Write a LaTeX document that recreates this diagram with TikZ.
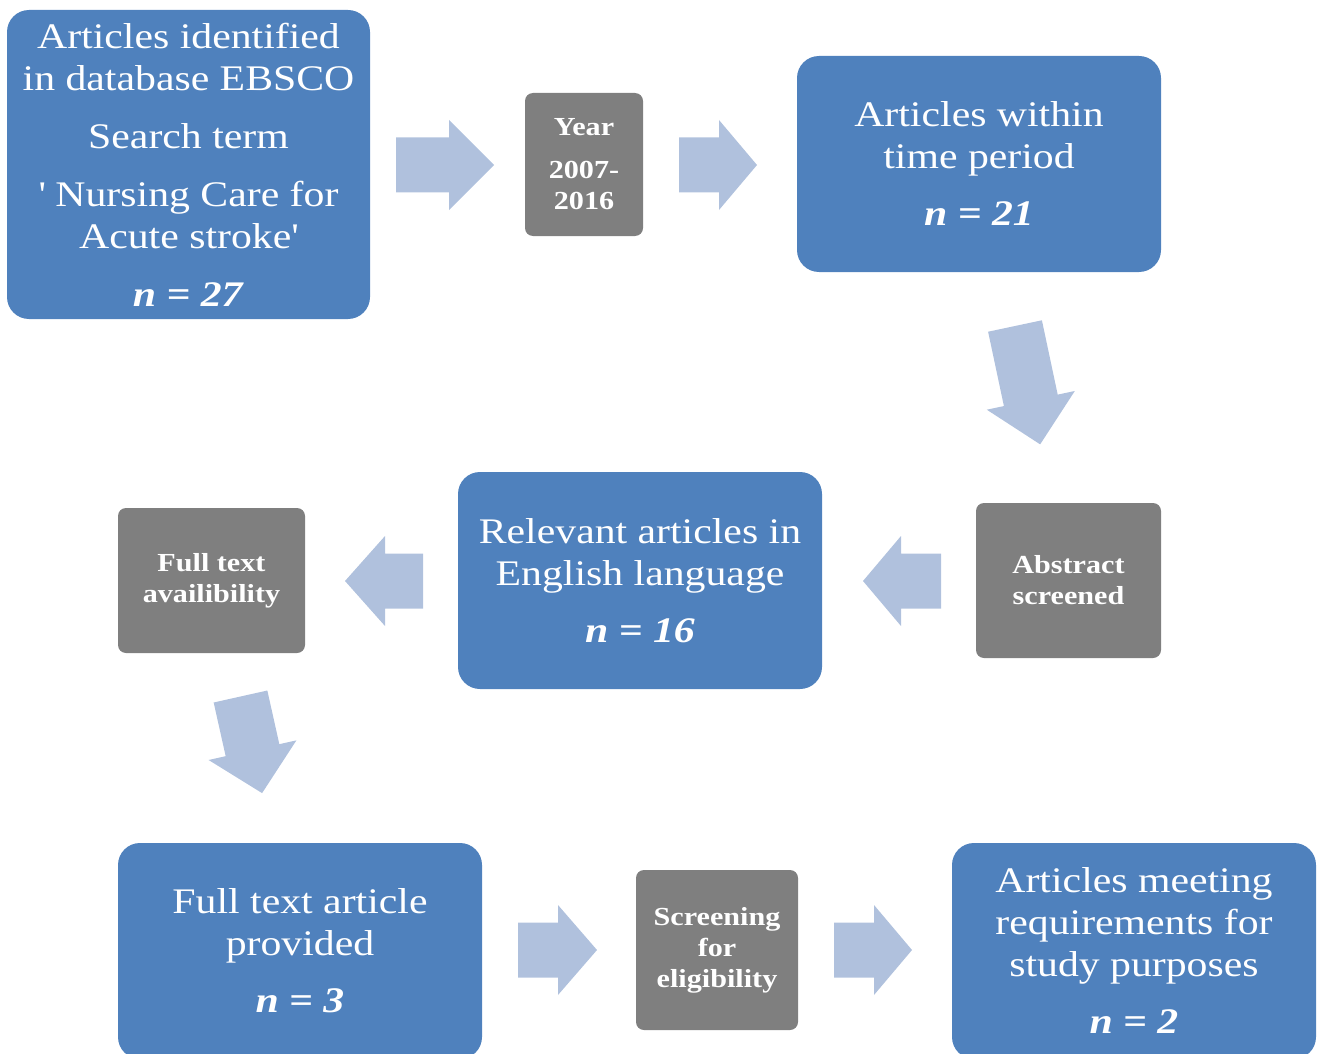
\documentclass[tikz,border=0pt]{standalone}
\usepackage{fontspec}
\setmainfont{Liberation Serif}[FakeStretch=1.16]
\definecolor{boxblue}{HTML}{4F81BD}
\definecolor{boxgrey}{HTML}{7F7F7F}
\definecolor{arrowblue}{HTML}{B0C1DD}
\tikzset{
  bluebox/.style={fill=boxblue, rounded corners=22pt, text=white, align=center,
    inner sep=0pt, font=\fontsize{36}{42}\selectfont},
  greybox/.style={fill=boxgrey, rounded corners=8pt, text=white, align=center,
    inner sep=0pt, font=\bfseries\fontsize{26}{31}\selectfont},
  blockarrow/.style={fill=arrowblue}
}
\newcommand\blockarr[4]{%
  \fill[blockarrow, shift={#1}, rotate=#2]
    (0,-27.5) -- ({#3-#4},-27.5) -- ({#3-#4},-45) -- (#3,0) -- ({#3-#4},45)
    -- ({#3-#4},27.5) -- (0,27.5) -- cycle;}
\newcommand\nval[1]{\textbf{\textit{n = #1}}}
\begin{document}
\begin{tikzpicture}[x=1pt,y=-1pt]
\useasboundingbox (0,0) rectangle (1318,1054);
\clip (0,0) rectangle (1318,1054);

% blue boxes
\node[bluebox, minimum width=363pt, minimum height=309pt] (ident) at (188.5,164.5)
  {Articles identified\\in database EBSCO\\[16pt]Search term\\[16pt]\textquotesingle{} Nursing Care for\\Acute stroke\textquotesingle\\[16pt]\nval{27}};
\node[bluebox, minimum width=364pt, minimum height=216pt] (within) at (979,164)
  {Articles within\\time period\\[15pt]\nval{21}};
\node[bluebox, minimum width=364pt, minimum height=217pt] (relevant) at (640,580.5)
  {Relevant articles in\\English language\\[15pt]\nval{16}};
\node[bluebox, minimum width=364pt, minimum height=216pt] (fulltext) at (300,951)
  {Full text article\\provided\\[15pt]\nval{3}};
\node[bluebox, minimum width=364pt, minimum height=216pt] (meeting) at (1134,951)
  {Articles meeting\\requirements for\\study purposes\\[15pt]\nval{2}};

% grey boxes
\node[greybox, minimum width=118pt, minimum height=143pt] (year) at (584,164.5)
  {Year\\[12pt]2007-\\2016};
\node[greybox, minimum width=185pt, minimum height=155pt] (abstract) at (1068.5,580.5)
  {Abstract\\screened};
\node[greybox, minimum width=187pt, minimum height=145pt] (avail) at (211.5,580.5)
  {Full text\\availibility};
\node[greybox, minimum width=162pt, minimum height=160pt] (screen) at (717,950)
  {Screening\\for\\eligibility};

% block arrows
\blockarr{(396,165)}{0}{98}{45}
\blockarr{(679,165)}{0}{78}{38}
\blockarr{(1015,326)}{-78}{121}{45}
\blockarr{(941,581)}{180}{78}{38}
\blockarr{(423,581)}{180}{78}{40}
\blockarr{(240.5,696.5)}{-77.4}{99}{44}
\blockarr{(518,950)}{0}{79}{39}
\blockarr{(834,950)}{0}{78}{38}
\end{tikzpicture}
\end{document}
